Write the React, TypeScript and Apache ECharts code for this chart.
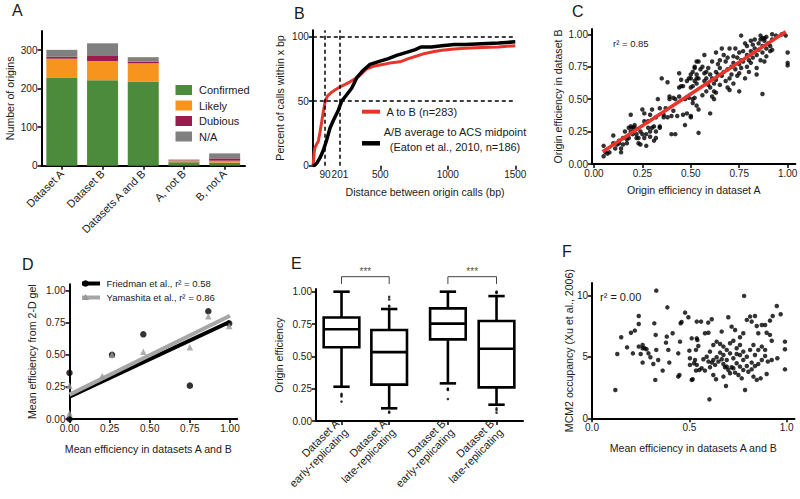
import React, { useEffect, useRef } from 'react';
import * as echarts from 'echarts';

const FONT = '"Liberation Sans", Arial, Helvetica, sans-serif';
const INK = '#1a1a1a';

// ---------- Panel A ----------
const aCategories = ['Dataset A', 'Dataset B', 'Datasets A and B', 'A, not B', 'B, not A'];
const aConfirmed = [228, 222, 219, 9, 8];
const aLikely = [50, 50, 47, 4, 5];
const aDubious = [5, 13, 4, 1, 6];
const aNA = [18, 33, 12, 2, 13];
const aYTicks = [0, 100, 200, 300];

// ---------- Panel B ----------
const bAtoB: number[][] = [
  [0, 0], [5, 3], [10, 10], [16, 14], [30, 17], [41, 19], [53, 26], [66, 34], [78, 42], [90, 49],
  [108, 54], [140, 57], [170, 59], [201, 61], [240, 63], [276, 65], [337, 69], [399, 75], [450, 77],
  [498, 78], [570, 79.5], [646, 80.5], [708, 83], [770, 85], [831, 87], [900, 88.5], [956, 89.5],
  [1050, 90.5], [1128, 91], [1250, 91.5], [1375, 92], [1500, 93],
];
const bAvgACS: number[][] = [
  [0, 0], [16, 0.5], [30, 2], [53, 6], [78, 12], [103, 20], [127, 29], [152, 35], [189, 43], [214, 50],
  [251, 55], [288, 60], [325, 68], [374, 74], [424, 78.5], [498, 81], [560, 83], [621, 85.5], [700, 88],
  [760, 90], [800, 92], [880, 92], [956, 93], [1050, 94], [1128, 94], [1250, 94.5], [1375, 95], [1500, 96],
];
const bXLabels = [90, 201, 500, 1000, 1500];
const bXTicks = [500, 1000, 1500];
const bYTicks = [0, 50, 100];
const bRefX = [90, 201];
const bRefY = [50, 100];

// ---------- Panel C ----------
const cPoints: number[][] = [
  [0.05, 0.06], [0.06, 0.09], [0.05, 0.14], [0.07, 0.08], [0.08, 0.09], [0.10, 0.22], [0.10, 0.16], [0.11, 0.12],
  [0.12, 0.15], [0.13, 0.18], [0.13, 0.16], [0.14, 0.12], [0.14, 0.09], [0.15, 0.15], [0.15, 0.20], [0.16, 0.25],
  [0.17, 0.16], [0.17, 0.19], [0.18, 0.28], [0.18, 0.20], [0.19, 0.38], [0.19, 0.25], [0.19, 0.29], [0.20, 0.28],
  [0.20, 0.23], [0.21, 0.30], [0.21, 0.28], [0.22, 0.20], [0.22, 0.23], [0.23, 0.16], [0.23, 0.20], [0.24, 0.25],
  [0.24, 0.15], [0.25, 0.23], [0.25, 0.42], [0.26, 0.33], [0.26, 0.39], [0.26, 0.20], [0.27, 0.14], [0.27, 0.23],
  [0.28, 0.33], [0.28, 0.28], [0.29, 0.38], [0.29, 0.21], [0.29, 0.25], [0.30, 0.42], [0.30, 0.28], [0.31, 0.18],
  [0.31, 0.29], [0.32, 0.20], [0.32, 0.25], [0.32, 0.36], [0.33, 0.50], [0.34, 0.43], [0.34, 0.29], [0.34, 0.28],
  [0.35, 0.66], [0.36, 0.36], [0.36, 0.38], [0.37, 0.43], [0.38, 0.36], [0.38, 0.63], [0.39, 0.52], [0.39, 0.50],
  [0.40, 0.23], [0.40, 0.37], [0.41, 0.41], [0.41, 0.51], [0.42, 0.50], [0.42, 0.23], [0.43, 0.37], [0.44, 0.59],
  [0.44, 0.70], [0.44, 0.52], [0.45, 0.60], [0.45, 0.65], [0.46, 0.38], [0.46, 0.60], [0.47, 0.30], [0.47, 0.50],
  [0.48, 0.64], [0.48, 0.39], [0.49, 0.66], [0.49, 0.51], [0.50, 0.37], [0.50, 0.59], [0.51, 0.60], [0.51, 0.50],
  [0.52, 0.74], [0.52, 0.75], [0.53, 0.66], [0.53, 0.45], [0.53, 0.62], [0.54, 0.79],
  [0.50, 0.69], [0.50, 0.66], [0.51, 0.71], [0.52, 0.64], [0.53, 0.79], [0.53, 0.69], [0.54, 0.66], [0.55, 0.73],
  [0.56, 0.75], [0.57, 0.70], [0.57, 0.64], [0.57, 0.84], [0.58, 0.71], [0.58, 0.66], [0.59, 0.61], [0.59, 0.74],
  [0.60, 0.69], [0.60, 0.59], [0.61, 0.79], [0.61, 0.66], [0.62, 0.62], [0.62, 0.56], [0.63, 0.86], [0.63, 0.71],
  [0.63, 0.65], [0.64, 0.77], [0.64, 0.69], [0.65, 0.61], [0.65, 0.80], [0.65, 0.74], [0.66, 0.89], [0.66, 0.68],
  [0.67, 0.84], [0.67, 0.71], [0.68, 0.64], [0.68, 0.79], [0.69, 0.73], [0.69, 0.59], [0.69, 0.82], [0.70, 0.66],
  [0.70, 0.89], [0.71, 0.75], [0.71, 0.69], [0.72, 0.83], [0.72, 0.62], [0.72, 0.78], [0.73, 0.73], [0.73, 0.89],
  [0.74, 0.82], [0.74, 0.68], [0.75, 0.77], [0.75, 0.86], [0.75, 0.70], [0.76, 0.80], [0.76, 0.74], [0.77, 0.87],
  [0.77, 0.79], [0.78, 0.66], [0.78, 0.93], [0.79, 0.84], [0.79, 0.75], [0.79, 0.91], [0.80, 0.80], [0.80, 0.71],
  [0.81, 0.95], [0.81, 0.87], [0.81, 0.78], [0.82, 0.92], [0.82, 0.82], [0.83, 0.96], [0.83, 0.89], [0.84, 0.74],
  [0.84, 0.84], [0.84, 0.69], [0.85, 0.93], [0.85, 0.88], [0.86, 0.80], [0.86, 0.96], [0.87, 0.91], [0.87, 0.86],
  [0.88, 0.79], [0.88, 0.95], [0.88, 0.97], [0.89, 0.89], [0.89, 0.83], [0.90, 0.93], [0.91, 0.87], [0.91, 0.91],
  [0.92, 0.96], [0.92, 0.88],
  [0.76, 0.99], [0.86, 0.99], [0.87, 0.97], [0.89, 0.98], [0.92, 1.0], [0.94, 0.99], [0.97, 1.0], [0.99, 0.99],
  [1.0, 0.86], [1.0, 0.78], [1.0, 0.76],
  [0.87, 0.54], [0.75, 0.56], [0.70, 0.57], [0.54, 0.42], [0.60, 0.39], [0.54, 0.24], [0.50, 0.36], [0.51, 0.47],
  [0.52, 0.51], [0.56, 0.53], [0.58, 0.56], [0.62, 0.50], [0.61, 0.52], [0.63, 0.55],
];
const cFitLine: number[][] = [[0.045, 0.095], [0.99, 1.02]];
const cTicks = [0, 0.25, 0.5, 0.75, 1];

// ---------- Panel D ----------
const dFriedman: number[][] = [[0, 0.36], [0, 0], [0.265, 0.5], [0.46, 0.66], [0.75, 0.26], [0.865, 0.84], [0.995, 0.745]];
const dYamashita: number[][] = [[0, 0.26], [0, 0.045], [0.204, 0.335], [0.265, 0.5], [0.46, 0.525], [0.75, 0.56], [0.865, 0.8], [0.995, 0.725]];
const dFriedmanFit: number[][] = [[0, 0.174], [1, 0.758]];
const dYamashitaFit: number[][] = [[0, 0.19], [1, 0.805]];
const dTicks = [0, 0.25, 0.5, 0.75, 1];

// ---------- Panel E ----------
const eCategories = ['Dataset A\nearly-replicating', 'Dataset A\nlate-replicating', 'Dataset B\nearly-replicating', 'Dataset B\nlate-replicating'];
const ePositions = [0.53, 1.52, 2.74, 3.75];
// [whisker low, Q1, median, Q3, whisker high]
const eBoxes: number[][] = [
  [0.265, 0.57, 0.709, 0.8, 1.0],
  [0.098, 0.281, 0.533, 0.704, 0.866],
  [0.291, 0.631, 0.753, 0.871, 1.0],
  [0.126, 0.26, 0.559, 0.773, 0.966],
];
// [box index, value]
const eOutliers: number[][] = [
  [0, 0.21], [0, 0.2], [0, 0.19], [0, 0.15],
  [1, 0.96], [1, 0.94], [1, 0.89], [1, 0.885], [1, 0.072], [1, 0.064],
  [2, 0.25], [2, 0.24], [2, 0.245], [2, 0.17],
  [3, 1.0], [3, 0.995], [3, 0.99], [3, 0.098], [3, 0.085], [3, 0.064],
];
const eBrackets: number[][] = [[0, 1], [2, 3]];
const eBracketLevels = [1.116, 1.06, 1.156]; // bar, tick end, stars
const eYTicks = [0, 0.25, 0.5, 0.75, 1];

// ---------- Panel F ----------
const fPoints: number[][] = [
  [0.33, 10.38], [0.12, 2.3], [0.13, 5.23], [0.15, 6.59], [0.18, 5.77], [0.2, 6.96], [0.22, 7.13], [0.21, 5.28],
  [0.24, 7.67], [0.24, 8.32], [0.24, 5.83], [0.25, 5.23], [0.26, 5.96], [0.26, 5.69], [0.26, 4.53], [0.27, 5.69],
  [0.28, 5.61], [0.29, 5.28], [0.3, 4.96], [0.315, 4.42], [0.32, 7.72], [0.325, 3.12], [0.327, 6.78], [0.33, 5.56],
  [0.34, 4.74], [0.363, 3.88], [0.38, 6.15], [0.384, 6.64], [0.387, 9.02], [0.392, 5.56], [0.397, 4.53], [0.414, 6.91],
  [0.443, 3.39], [0.449, 3.52], [0.452, 6.23], [0.455, 7.72], [0.46, 7.83], [0.443, 5.28], [0.478, 8.59], [0.495, 8.21],
  [0.503, 4.88], [0.5, 5.5], [0.512, 6.5], [0.512, 3.12], [0.538, 7.86], [0.534, 5.56], [0.538, 4.34], [0.541, 6.37],
  [0.546, 5.88], [0.524, 4.47],
  [0.781, 9.95], [0.603, 1.54], [0.949, 9.13], [0.969, 8.46], [0.928, 8.32], [0.914, 7.94], [0.991, 6.23], [0.991, 5.61],
  [0.991, 3.98], [0.952, 4.88], [0.923, 4.74], [0.903, 4.61], [0.897, 3.6], [0.866, 3.25], [0.846, 3.12], [0.829, 3.39],
  [0.786, 2.3], [0.688, 2.63], [0.675, 3.39], [0.637, 3.17], [0.623, 3.52], [0.58, 3.88], [0.551, 3.93], [0.534, 3.88],
  [0.517, 3.17], [0.503, 4.34], [0.529, 4.74], [0.538, 6.5], [0.56, 7.86], [0.597, 7.78], [0.615, 8.05], [0.58, 6.91],
  [0.598, 6.96], [0.666, 7.05], [0.7, 8.21], [0.717, 7.45], [0.735, 7.18], [0.76, 6.59], [0.777, 6.91], [0.795, 8.0],
  [0.812, 8.27], [0.82, 7.86], [0.837, 8.32], [0.846, 7.51], [0.854, 6.91], [0.872, 7.59], [0.889, 7.59], [0.897, 6.96],
  [0.914, 6.78], [0.923, 6.31], [0.889, 5.56], [0.872, 5.83], [0.854, 5.56], [0.837, 5.15], [0.82, 4.53], [0.795, 4.25],
  [0.777, 4.74], [0.76, 4.2], [0.743, 4.47], [0.726, 4.88], [0.709, 5.28], [0.692, 5.56], [0.675, 5.83], [0.658, 6.04],
  [0.64, 6.23], [0.623, 5.96], [0.606, 5.42], [0.589, 5.01], [0.572, 4.8], [0.563, 4.07], [0.598, 4.61], [0.615, 4.53],
  [0.632, 4.34], [0.649, 4.61], [0.666, 4.8], [0.683, 4.15], [0.7, 3.93], [0.717, 4.15], [0.735, 3.71], [0.752, 3.52],
  [0.769, 3.25], [0.777, 3.93], [0.803, 3.79], [0.82, 3.98], [0.837, 4.25], [0.854, 4.42], [0.872, 4.74], [0.889, 5.07],
  [0.709, 6.1], [0.726, 6.31], [0.743, 5.69], [0.76, 5.96], [0.777, 5.42], [0.795, 5.01], [0.812, 5.56], [0.829, 5.96],
  [0.692, 4.74], [0.675, 5.15], [0.658, 5.34], [0.64, 4.96], [0.623, 4.74], [0.606, 4.15], [0.76, 5.15], [0.743, 5.23],
  [0.726, 4.07], [0.709, 3.66], [0.692, 4.2], [0.675, 4.42],
];
const fXTicks = [0, 0.5, 1];
const fYTicks = [0, 5, 10];

// ---------- colours ----------
const GREEN = '#4B8B3B';
const ORANGE = '#F7941D';
const MAROON = '#9B1B4F';
const GREY = '#808080';
const RED = '#E8352C';
const LIGHTGREY = '#A6A6A6';

const NAME_SIZE = 10.6;

function nearestIdx(arr: number[], v: number) {
  let b = 0;
  for (let i = 1; i < arr.length; i++) if (Math.abs(arr[i] - v) < Math.abs(arr[b] - v)) b = i;
  return b;
}

function valueAxis(gridIndex: number, min: number, max: number, ticks: number[], fmt: (v: number) => string,
  name: string, nameGap: number, extra: any = {}) {
  return {
    type: 'value', gridIndex, min, max, name, nameGap,
    nameLocation: 'middle', nameMoveOverlap: false,
    nameTextStyle: { color: INK, fontSize: NAME_SIZE, fontFamily: FONT, ...(extra.nameTextStyle || {}) },
    axisLine: { show: extra.hideLine ? false : true, onZero: false, lineStyle: { color: '#000', width: 2 } },
    axisTick: { show: true, length: 4, customValues: extra.tickValues || ticks, lineStyle: { color: '#000', width: 1.5 } },
    axisLabel: { show: true, customValues: ticks, formatter: fmt, color: INK, fontSize: 10, fontFamily: FONT, margin: 4, ...(extra.axisLabel || {}) },
    splitLine: { show: false },
  };
}

const f0 = (v: number) => v.toFixed(0);
const f1 = (v: number) => v.toFixed(1);
const f2 = (v: number) => v.toFixed(2);

function text(x: number, y: number, t: string, size: number, opts: any = {}) {
  const align = opts.align || 'left';
  const va = opts.va || 'middle';
  return {
    type: 'text', x, y, silent: true,
    style: {
      text: t, fill: opts.color || INK, fontSize: size, fontFamily: FONT, lineHeight: opts.lineHeight,
      align, textAlign: align, verticalAlign: va, textVerticalAlign: va,
    },
  };
}

function buildOption() {
  const grids = [
    { left: 41.5, top: 31, width: 203.5, height: 134.7 },
    { left: 312.8, top: 30.2, width: 202.5, height: 135.5 },
    { left: 592, top: 29.1, width: 203.4, height: 134.9 },
    { left: 69.5, top: 284.3, width: 167.7, height: 134.7 },
    { left: 316, top: 289.1, width: 207, height: 131.9 },
    { left: 592, top: 283, width: 202.5, height: 135.3 },
  ].map((g) => ({ ...g, containLabel: false, outerBoundsMode: 'none' }));

  const xAxis: any[] = [
    {
      type: 'category', gridIndex: 0, data: aCategories,
      axisLine: { show: true, onZero: false, lineStyle: { color: '#000', width: 2 } },
      axisTick: { show: true, alignWithLabel: true, length: 4, lineStyle: { color: '#000', width: 1.5 } },
      axisLabel: { interval: 0, rotate: 45, color: INK, fontSize: 11, fontFamily: FONT, margin: 6 },
      splitLine: { show: false },
    },
    valueAxis(1, 0, 1500, bXLabels, f0, 'Distance between origin calls (bp)', 21,
      { hideLine: true, tickValues: bXTicks, nameTextStyle: { padding: [0, 0, 0, 22] } }),
    valueAxis(2, -0.01, 1.04, cTicks, f2, 'Origin efficiency in dataset A', 20),
    valueAxis(3, 0, 1.045, dTicks, f2, 'Mean efficiency in datasets A and B', 24, { nameTextStyle: { padding: [0, 10, 0, 0] } }),
    valueAxis(4, 0, 4.3, ePositions, (v: number) => eCategories[nearestIdx(ePositions, v)], '', 0,
      { axisLabel: { rotate: 45, fontSize: 11, lineHeight: 12.5, margin: 5 } }),
    valueAxis(5, 0, 1.04, fXTicks, f1, 'Mean efficiency in datasets A and B', 24.5),
  ];

  const yAxis: any[] = [
    valueAxis(0, 0, 350, aYTicks, f0, 'Number of origins', 26),
    valueAxis(1, 0, 105, bYTicks, f0, 'Percent of calls within x bp', 27),
    valueAxis(2, 0, 1.04, cTicks, f2, 'Origin efficiency in dataset B', 29),
    valueAxis(3, 0, 1.05, dTicks, f2, 'Mean efficiency from 2-D gel', 32),
    valueAxis(4, 0, 1.02, eYTicks, f2, 'Origin efficiency', 32),
    valueAxis(5, 0, 11, fYTicks, f0, 'MCM2 occupancy (Xu et al., 2006)', 18),
  ];

  const boxLW = 2.6;
  const renderBox = (_p: any, api: any) => {
    const x = api.value(0);
    const lo = api.coord([x, api.value(1)]);
    const q1 = api.coord([x, api.value(2)]);
    const md = api.coord([x, api.value(3)]);
    const q3 = api.coord([x, api.value(4)]);
    const hi = api.coord([x, api.value(5)]);
    const bw = api.size([0.74, 0])[0];
    const cw = api.size([0.34, 0])[0];
    const st = { stroke: '#000', lineWidth: boxLW, fill: null };
    return {
      type: 'group',
      children: [
        { type: 'line', shape: { x1: hi[0], y1: hi[1], x2: q3[0], y2: q3[1] }, style: st },
        { type: 'line', shape: { x1: q1[0], y1: q1[1], x2: lo[0], y2: lo[1] }, style: st },
        { type: 'line', shape: { x1: hi[0] - cw / 2, y1: hi[1], x2: hi[0] + cw / 2, y2: hi[1] }, style: st },
        { type: 'line', shape: { x1: lo[0] - cw / 2, y1: lo[1], x2: lo[0] + cw / 2, y2: lo[1] }, style: st },
        { type: 'rect', shape: { x: q3[0] - bw / 2, y: q3[1], width: bw, height: q1[1] - q3[1] }, style: { stroke: '#000', lineWidth: boxLW, fill: '#fff' } },
        { type: 'line', shape: { x1: md[0] - bw / 2, y1: md[1], x2: md[0] + bw / 2, y2: md[1] }, style: st },
      ],
    };
  };

  const renderBracket = (_p: any, api: any) => {
    const x1 = api.value(0), x2 = api.value(1);
    const a = api.coord([x1, api.value(2)]);
    const b = api.coord([x2, api.value(2)]);
    const d = api.coord([x1, api.value(3)]);
    const t = api.coord([(x1 + x2) / 2, api.value(4)]);
    return {
      type: 'group',
      children: [
        { type: 'polyline', shape: { points: [[a[0], d[1]], [a[0], a[1]], [b[0], b[1]], [b[0], d[1]]] }, style: { stroke: '#444', lineWidth: 1, fill: null } },
        { type: 'text', x: t[0], y: t[1], style: { text: '***', fill: '#555', fontSize: 10, fontFamily: FONT, align: 'center', verticalAlign: 'middle' } },
      ],
    };
  };

  const series: any[] = [
    // A
    { type: 'bar', name: 'Confirmed', xAxisIndex: 0, yAxisIndex: 0, stack: 'a', data: aConfirmed, barWidth: 31, itemStyle: { color: GREEN } },
    { type: 'bar', name: 'Likely', xAxisIndex: 0, yAxisIndex: 0, stack: 'a', data: aLikely, barWidth: 31, itemStyle: { color: ORANGE } },
    { type: 'bar', name: 'Dubious', xAxisIndex: 0, yAxisIndex: 0, stack: 'a', data: aDubious, barWidth: 31, itemStyle: { color: MAROON } },
    { type: 'bar', name: 'N/A', xAxisIndex: 0, yAxisIndex: 0, stack: 'a', data: aNA, barWidth: 31, itemStyle: { color: GREY } },
    // B reference lines
    {
      type: 'line', name: 'ref', xAxisIndex: 1, yAxisIndex: 1, data: [], z: 1, silent: true,
      markLine: {
        silent: true, symbol: 'none', label: { show: false }, animation: false,
        lineStyle: { type: [4, 3], color: '#000', width: 1.5 },
        data: [...bRefY.map((v) => ({ yAxis: v })), ...bRefX.map((v) => ({ xAxis: v }))],
      },
    },
    { type: 'line', name: 'A to B (n=283)', xAxisIndex: 1, yAxisIndex: 1, data: bAtoB, showSymbol: false, symbol: 'none', lineStyle: { color: RED, width: 3 }, z: 3 },
    { type: 'line', name: 'A/B average to ACS midpoint', xAxisIndex: 1, yAxisIndex: 1, data: bAvgACS, showSymbol: false, symbol: 'none', lineStyle: { color: '#000', width: 3.5 }, z: 4 },
    // C
    { type: 'scatter', xAxisIndex: 2, yAxisIndex: 2, data: cPoints, symbolSize: 4.5, itemStyle: { color: '#000' }, clip: false },
    { type: 'line', xAxisIndex: 2, yAxisIndex: 2, data: cFitLine, showSymbol: false, symbol: 'none', lineStyle: { color: RED, width: 3.5 }, z: 5 },
    // D
    { type: 'line', xAxisIndex: 3, yAxisIndex: 3, data: dFriedmanFit, showSymbol: false, symbol: 'none', lineStyle: { color: '#000', width: 4 }, z: 2 },
    { type: 'line', xAxisIndex: 3, yAxisIndex: 3, data: dYamashitaFit, showSymbol: false, symbol: 'none', lineStyle: { color: LIGHTGREY, width: 4 }, z: 3 },
    { type: 'scatter', xAxisIndex: 3, yAxisIndex: 3, data: dFriedman, symbol: 'circle', symbolSize: 6.5, itemStyle: { color: '#000' }, clip: false, z: 4 },
    { type: 'scatter', xAxisIndex: 3, yAxisIndex: 3, data: dYamashita, symbol: 'triangle', symbolSize: 6.5, itemStyle: { color: '#999' }, clip: false, z: 5 },
    // E
    {
      type: 'custom', xAxisIndex: 4, yAxisIndex: 4, clip: false,
      data: eBoxes.map((b, i) => [ePositions[i], ...b]),
      encode: { x: 0, y: [1, 2, 3, 4, 5] }, renderItem: renderBox,
    },
    {
      type: 'scatter', xAxisIndex: 4, yAxisIndex: 4, clip: false, symbolSize: 2.6, itemStyle: { color: '#000' },
      data: eOutliers.map(([i, v]) => [ePositions[i], v]),
    },
    {
      type: 'custom', xAxisIndex: 4, yAxisIndex: 4, clip: false,
      data: eBrackets.map(([i, j]) => [ePositions[i], ePositions[j], ...eBracketLevels]),
      encode: { x: [0, 1], y: [2, 3, 4] }, renderItem: renderBracket,
    },
    // F
    { type: 'scatter', xAxisIndex: 5, yAxisIndex: 5, data: fPoints, symbolSize: 4.5, itemStyle: { color: '#000' }, clip: false },
  ];

  const graphic: any[] = [
    // panel letters
    text(12, 10.5, 'A', 16), text(294, 13, 'B', 16), text(572, 11, 'C', 16),
    text(22, 264.5, 'D', 16), text(291, 263.5, 'E', 16), text(562, 251, 'F', 16),
    // B legend
    { type: 'line', shape: { x1: 362, y1: 111.7, x2: 380, y2: 111.7 }, style: { stroke: RED, lineWidth: 4 } },
    text(386.5, 111.7, 'A to B (n=283)', 11),
    { type: 'line', shape: { x1: 362, y1: 143.3, x2: 380, y2: 143.3 }, style: { stroke: '#000', lineWidth: 4.5 } },
    text(455, 139.5, 'A/B average to ACS midpoint\n(Eaton et al., 2010, n=186)', 11, { align: 'center', lineHeight: 14.5 }),
    // C annotation
    text(613, 43.3, 'r² = 0.85', 9.5),
    // D legend
    { type: 'line', shape: { x1: 82, y1: 283.5, x2: 100, y2: 283.5 }, style: { stroke: '#000', lineWidth: 4 } },
    { type: 'circle', shape: { cx: 85.5, cy: 283.5, r: 3.3 }, style: { fill: '#000' } },
    text(106.5, 283.5, 'Friedman et al., r² = 0.58', 9.5),
    { type: 'line', shape: { x1: 82, y1: 297.5, x2: 100, y2: 297.5 }, style: { stroke: LIGHTGREY, lineWidth: 4 } },
    { type: 'polygon', shape: { points: [[85.5, 294], [89, 300], [82, 300]] }, style: { fill: '#999' } },
    text(106.5, 297.5, 'Yamashita et al., r² = 0.86', 9.5),
    // F annotation
    text(600, 297.3, 'r² = 0.00', 11),
  ];

  return {
    animation: false,
    backgroundColor: '#fff',
    textStyle: { fontFamily: FONT },
    grid: grids,
    xAxis, yAxis, series,
    legend: [{
      data: ['Confirmed', 'Likely', 'Dubious', 'N/A'],
      orient: 'vertical', left: 170.5, top: 79.5, itemWidth: 16.5, itemHeight: 10, itemGap: 4.5,
      icon: 'rect', selectedMode: false,
      textStyle: { fontSize: 11, fontFamily: FONT, color: INK, padding: [0, 0, 0, 2] },
    }],
    graphic: { elements: graphic },
  };
}

export default function App() {
  const ref = useRef<HTMLDivElement>(null);
  useEffect(() => {
    if (!ref.current) return;
    const chart = echarts.init(ref.current, null, { renderer: 'svg' });
    chart.setOption(buildOption() as any);
    return () => chart.dispose();
  }, []);
  return (
    <div
      ref={ref}
      style={{ position: 'fixed', left: 0, top: 0, width: 800, height: 499, background: '#fff' }}
    />
  );
}
